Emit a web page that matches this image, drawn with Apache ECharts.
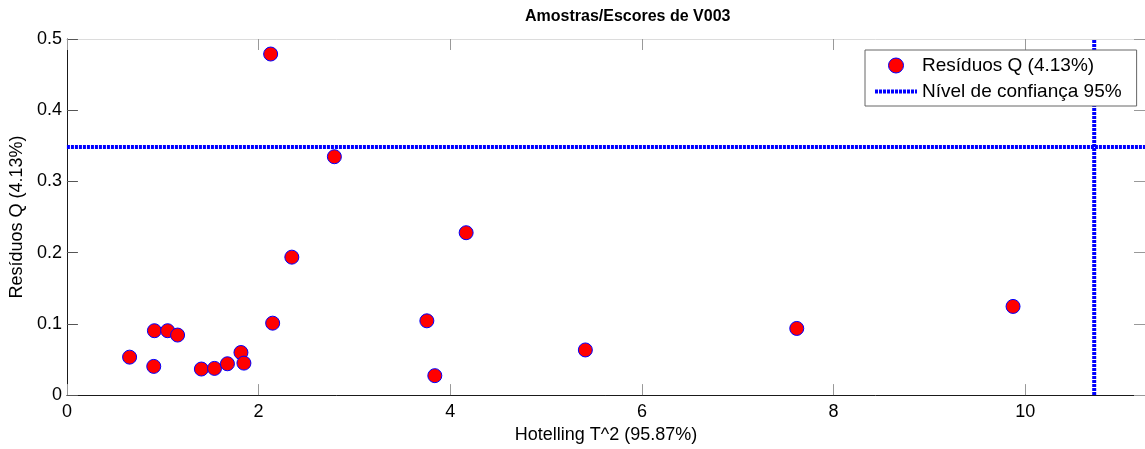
<!DOCTYPE html>
<html>
<head>
<meta charset="utf-8">
<script src="https://cdn.jsdelivr.net/npm/echarts@6/dist/echarts.min.js"></script>
<style>
html,body{margin:0;padding:0;background:#fff;}
#c{width:1145px;height:449px;}
</style>
</head>
<body>
<div id="c"></div>
<script>
// Hotelling T^2 values (x) and Q residuals (y) of the samples
const hotellingT2 = [0.654, 0.906, 0.913, 1.051, 1.155, 1.403, 1.540, 1.675, 1.816, 1.847, 2.147, 2.126, 2.791, 2.347, 4.166, 3.756, 3.839, 5.410, 7.616, 9.873];
const residuosQ   = [0.0533, 0.0403, 0.0904, 0.0904, 0.0843, 0.0366, 0.0375, 0.0440, 0.0598, 0.0449, 0.1010, 0.4789, 0.3347, 0.1937, 0.2280, 0.1043, 0.0273, 0.0634, 0.0936, 0.1245];
// 95% confidence limits
const qLimit = 0.3485;
const t2Limit = 10.72;
// axis ranges
const xRange = [0, 11.25];
const yRange = [0, 0.5];

const titleText = 'Amostras/Escores de V003';
const xName = 'Hotelling T^2 (95.87%)';
const yName = 'Resíduos Q (4.13%)';
const seriesNames = ['Resíduos Q (4.13%)', 'Nível de confiança 95%'];

const FONT = "'Liberation Sans', Arial, Helvetica, sans-serif";
const points = hotellingT2.map((x, i) => [x, residuosQ[i]]);
const limitStyle = {color: '#0000ff', width: 4, type: [3, 1]};

const chart = echarts.init(document.getElementById('c'), null, {renderer: 'canvas'});
chart.setOption({
  animation: false,
  backgroundColor: '#ffffff',
  textStyle: {fontFamily: FONT},
  title: {
    text: titleText,
    left: 520, top: 4,
    textStyle: {fontFamily: FONT, fontSize: 16, fontWeight: 'bold', color: '#000'}
  },
  grid: {left: 65, top: 39, width: 1088, height: 359, containLabel: false},
  legend: {
    orient: 'vertical',
    left: 865, top: 50,
    backgroundColor: '#fff',
    borderColor: '#666', borderWidth: 1,
    padding: [6, 15, 5, 8],
    itemGap: 7,
    itemWidth: 42, itemHeight: 15,
    textStyle: {fontFamily: FONT, fontSize: 19, color: '#000'},
    data: [
      {name: seriesNames[0], icon: 'circle',
       itemStyle: {color: '#ff0000', borderColor: '#0000ff', borderWidth: 1}},
      {name: seriesNames[1], itemStyle: {opacity: 0},
       lineStyle: {color: '#0000ff', width: 4, type: [3, 1]}}
    ]
  },
  xAxis: [{
    type: 'value', min: xRange[0], max: xRange[1], interval: 2,
    name: xName, nameLocation: 'middle', nameGap: 30,
    nameTextStyle: {fontFamily: FONT, fontSize: 18, color: '#000'},
    axisLine: {show: true, lineStyle: {color: '#1a1a1a', width: 1}},
    axisTick: {show: true, inside: true, length: 11, lineStyle: {color: '#999'}},
    axisLabel: {fontFamily: FONT, fontSize: 18, color: '#000', margin: 8, showMaxLabel: false},
    splitLine: {show: false}
  }, {
    type: 'value', position: 'top', min: xRange[0], max: xRange[1], interval: 2,
    axisLine: {show: true, onZero: false, lineStyle: {color: '#dcdcdc', width: 1}},
    axisTick: {show: true, inside: true, length: 11, lineStyle: {color: '#999'}},
    axisLabel: {show: false},
    splitLine: {show: false}
  }],
  yAxis: [{
    type: 'value', min: yRange[0], max: yRange[1], interval: 0.1,
    name: yName, nameLocation: 'middle', nameGap: 38, nameRotate: 90,
    nameTextStyle: {fontFamily: FONT, fontSize: 18, color: '#000'},
    axisLine: {show: true, lineStyle: {color: '#1a1a1a', width: 1}},
    axisTick: {show: true, inside: true, length: 11, lineStyle: {color: '#555'}},
    axisLabel: {fontFamily: FONT, fontSize: 18, color: '#000', margin: 5},
    splitLine: {show: false}
  }, {
    type: 'value', position: 'right', min: yRange[0], max: yRange[1], interval: 0.1,
    axisLine: {show: true, onZero: false, lineStyle: {color: '#dcdcdc', width: 1}},
    axisTick: {show: true, inside: true, length: 11, lineStyle: {color: '#999'}},
    axisLabel: {show: false},
    splitLine: {show: false}
  }],
  series: [{
    name: seriesNames[0],
    type: 'scatter',
    symbol: 'circle',
    symbolSize: 14,
    itemStyle: {color: '#ff0000', borderColor: '#0000ff', borderWidth: 1, opacity: 1},
    data: points,
    z: 3
  }, {
    name: seriesNames[1],
    type: 'line',
    symbol: 'none', showSymbol: false,
    lineStyle: limitStyle,
    itemStyle: {color: '#0000ff'},
    data: [[xRange[0], qLimit], [xRange[1], qLimit]],
    z: 2
  }, {
    name: seriesNames[1],
    type: 'line',
    symbol: 'none', showSymbol: false,
    lineStyle: limitStyle,
    itemStyle: {color: '#0000ff'},
    data: [[t2Limit, yRange[0]], [t2Limit, yRange[1]]],
    z: 2
  }]
});
</script>
</body>
</html>
